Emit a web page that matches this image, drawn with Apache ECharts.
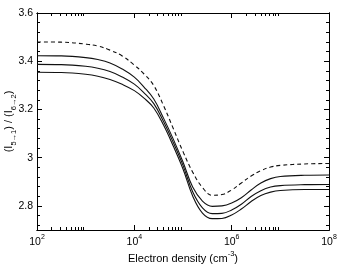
<!DOCTYPE html>
<html>
<head>
<meta charset="utf-8">
<script src="https://cdn.jsdelivr.net/npm/echarts@6/dist/echarts.min.js"></script>
<style>html,body{margin:0;padding:0;background:#fff}#c{width:341px;height:264px}</style>
</head>
<body>
<div id="c"></div>
<script>
// Electron density (cm^-3)
const density = [1e2, 3.16e2, 1e3, 1.78e3, 3.16e3, 5.62e3, 1e4, 1.58e4, 2.51e4, 3.98e4, 6.31e4, 1e5, 1.58e5, 2.51e5, 3.98e5, 6.31e5, 1e6, 1.58e6, 2.51e6, 3.98e6, 6.31e6, 1e7, 3.16e7, 1e8];
const dashedRatio = [3.480, 3.479, 3.471, 3.463, 3.446, 3.422, 3.384, 3.347, 3.299, 3.216, 3.121, 3.025, 2.940, 2.876, 2.844, 2.847, 2.866, 2.895, 2.924, 2.946, 2.961, 2.968, 2.974, 2.976];
const solidRatio1 = [3.423, 3.422, 3.415, 3.407, 3.393, 3.368, 3.334, 3.293, 3.243, 3.164, 3.077, 2.982, 2.878, 2.820, 2.798, 2.800, 2.812, 2.834, 2.866, 2.895, 2.913, 2.922, 2.927, 2.928];
const solidRatio2 = [3.387, 3.386, 3.379, 3.371, 3.357, 3.335, 3.305, 3.269, 3.224, 3.150, 3.063, 2.968, 2.859, 2.792, 2.768, 2.769, 2.783, 2.807, 2.839, 2.863, 2.878, 2.884, 2.888, 2.889];
const solidRatio3 = [3.354, 3.353, 3.346, 3.338, 3.324, 3.304, 3.278, 3.247, 3.206, 3.135, 3.048, 2.953, 2.841, 2.770, 2.747, 2.748, 2.762, 2.787, 2.818, 2.843, 2.857, 2.864, 2.868, 2.868];
const xMajorTicks = [1e2, 1e4, 1e6, 1e8];
const xMinorTicks = [2e2,3e2,4e2,5e2,6e2,7e2,8e2,9e2, 2e4,3e4,4e4,5e4,6e4,7e4,8e4,9e4, 2e6,3e6,4e6,5e6,6e6,7e6,8e6,9e6];
const yMajorTicks = [2.8, 3.0, 3.2, 3.4, 3.6];
const yMinorTicks = [2.72, 2.76, 2.84, 2.88, 2.92, 2.96, 3.04, 3.08, 3.12, 3.16, 3.24, 3.28, 3.32, 3.36, 3.44, 3.48, 3.52, 3.56];
const xTitle = '{t|Electron density (cm}{sup|-3}{t|)}';
const yTitle = '{t|(I}{sub|5\u21921}{t|) / (I}{sub|6\u21922}{t|)}';

const FONT = 'Liberation Sans, Arial, Helvetica, sans-serif';
const black = '#000';
const richSup = {
  base: {fontSize: 10.5, fontFamily: FONT, color: black, lineHeight: 14, verticalAlign: 'bottom'},
  sup: {fontSize: 7, fontFamily: FONT, color: black, lineHeight: 14, verticalAlign: 'top'}
};

function xAxisDef(pos, ticks, len, labels, withName) {
  return {
    type: 'log', logBase: 10, min: 100, max: 1e8, position: pos, gridIndex: 0,
    axisLine: {show: true, lineStyle: {color: black, width: 1}},
    axisTick: {show: true, inside: true, length: len, customValues: ticks, lineStyle: {color: black, width: 1}},
    axisLabel: {show: labels, customValues: ticks, margin: 4, fontSize: 10.5, fontFamily: FONT, color: black,
      formatter: v => '{base|10}{sup|' + Math.round(Math.log10(v)) + '}', rich: richSup},
    splitLine: {show: false}, minorTick: {show: false},
    name: withName ? xTitle : '', nameLocation: 'middle', nameGap: 20, nameMoveOverlap: false,
    nameTextStyle: {fontSize: 11, fontFamily: FONT, color: black,
      rich: {
        t: {fontSize: 11, fontFamily: FONT, color: black, lineHeight: 14, verticalAlign: 'bottom'},
        sup: {fontSize: 7.5, fontFamily: FONT, color: black, lineHeight: 14, verticalAlign: 'top'}
      }}
  };
}
function yAxisDef(pos, ticks, len, labels, withName) {
  return {
    type: 'value', min: 2.7, max: 3.6, position: pos, gridIndex: 0,
    axisLine: {show: true, lineStyle: {color: black, width: 1}},
    axisTick: {show: true, inside: true, length: len, customValues: ticks, lineStyle: {color: black, width: 1}},
    axisLabel: {show: labels, customValues: ticks, margin: 4, fontSize: 10.5, fontFamily: FONT, color: black,
      formatter: v => (Math.abs(v - 3) < 1e-9 ? '3' : v.toFixed(1))},
    splitLine: {show: false},
    name: withName ? yTitle : '', nameLocation: 'middle', nameGap: 19, nameRotate: 90, nameMoveOverlap: false,
    nameTextStyle: {fontSize: 11, fontFamily: FONT, color: black,
      rich: {
        t: {fontSize: 11, fontFamily: FONT, color: black, lineHeight: 15, verticalAlign: 'top'},
        sub: {fontSize: 7.5, fontFamily: FONT, color: black, lineHeight: 15, verticalAlign: 'bottom'}
      }}
  };
}

function mk(arr) { return density.map((d, i) => [d, arr[i]]); }
function line(arr, dashed) {
  return {
    type: 'line', xAxisIndex: 0, yAxisIndex: 0, data: mk(arr), smooth: 0.4, symbol: 'none',
    lineStyle: {color: '#111', width: 1.1, type: dashed ? [4, 3] : 'solid'}
  };
}

const chart = echarts.init(document.getElementById('c'), null, {renderer: 'canvas'});
chart.setOption({
  animation: false,
  backgroundColor: '#fff',
  grid: {left: 37, right: 12, top: 13, bottom: 34, containLabel: false, outerBoundsMode: 'none'},
  xAxis: [
    xAxisDef('bottom', xMajorTicks, 5, true, true),
    xAxisDef('bottom', xMinorTicks, 3, false, false),
    xAxisDef('top', xMajorTicks, 5, false, false),
    xAxisDef('top', xMinorTicks, 3, false, false)
  ],
  yAxis: [
    yAxisDef('left', yMajorTicks, 5, true, true),
    yAxisDef('left', yMinorTicks, 3, false, false),
    yAxisDef('right', yMajorTicks, 5, false, false),
    yAxisDef('right', yMinorTicks, 3, false, false)
  ],
  series: [
    line(dashedRatio, true),
    line(solidRatio1, false),
    line(solidRatio2, false),
    line(solidRatio3, false)
  ]
});
</script>
</body>
</html>
